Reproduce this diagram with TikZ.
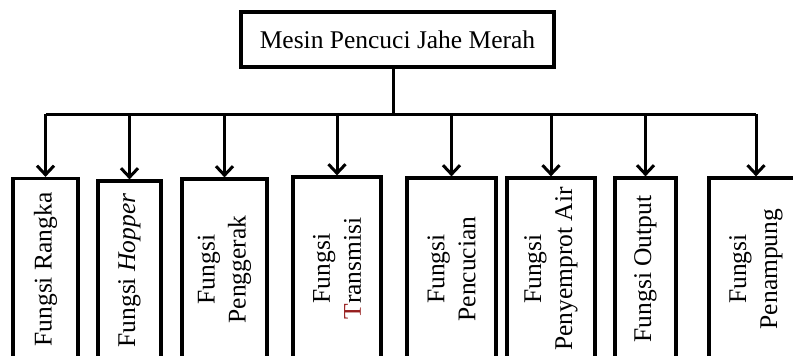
\documentclass[tikz,border=0pt]{standalone}
\usepackage{fontspec}
\setmainfont{Liberation Serif}
\usepackage{xcolor}
\usepackage{tikz}
\usetikzlibrary{arrows.meta}
\definecolor{tred}{RGB}{150,30,30}

\begin{document}
\begin{tikzpicture}[x=1pt,y=-1pt,
        main node/.style={rectangle,draw,line width=3.2pt,inner sep=2pt,align=center,
          font=\fontsize{25.5}{31}\selectfont},
        sub node/.style={main node,rotate=90,minimum width=182pt},
        link/.style={line width=3pt},
        arrow/.style={link,-{Straight Barb[length=9pt,width=17pt,line width=3pt]}}
      ]
      \useasboundingbox (0,0) rectangle (793,356);
      \clip (0,0) rectangle (793,356);

      % top
      \node[main node,minimum width=313pt,minimum height=55pt] (top) at (397.5,39.5) {Mesin Pencuci Jahe Merah};
      \coordinate (hub) at (393,114);

      % functions
      \node[sub node,minimum height=65pt] (b1) at (45.5,269.5) {Fungsi Rangka};
      \node[sub node,minimum height=63pt,minimum width=179pt] (b2) at (129.5,270.5) {Fungsi \textit{Hopper}};
      \node[sub node,minimum height=85pt,minimum width=181pt] (b3) at (224.5,269.5) {Fungsi\\Penggerak};
      \node[sub node,minimum height=88pt,minimum width=183pt] (b4) at (337,268.5) {Fungsi\\\textcolor{tred}{T}ransmisi};
      \node[sub node,minimum height=89pt] (b5) at (451.5,269) {Fungsi\\Pencucian};
      \node[sub node,minimum height=88pt] (b6) at (551,269) {Fungsi\\Penyemprot Air};
      \node[sub node,minimum height=61pt] (b7) at (645.5,269) {Fungsi Output};
      \node[sub node,minimum height=94pt] (b8) at (756,269) {Fungsi\\Penampung};

      \draw[link] (top.south -| hub) -- (hub);
      \draw[link] (b1.east |- hub) -- (b8.east |- hub);
      \foreach \i in {1,...,8}
        \draw[arrow] (b\i.east |- hub) -- (b\i.east);
    \end{tikzpicture}
\end{document}
